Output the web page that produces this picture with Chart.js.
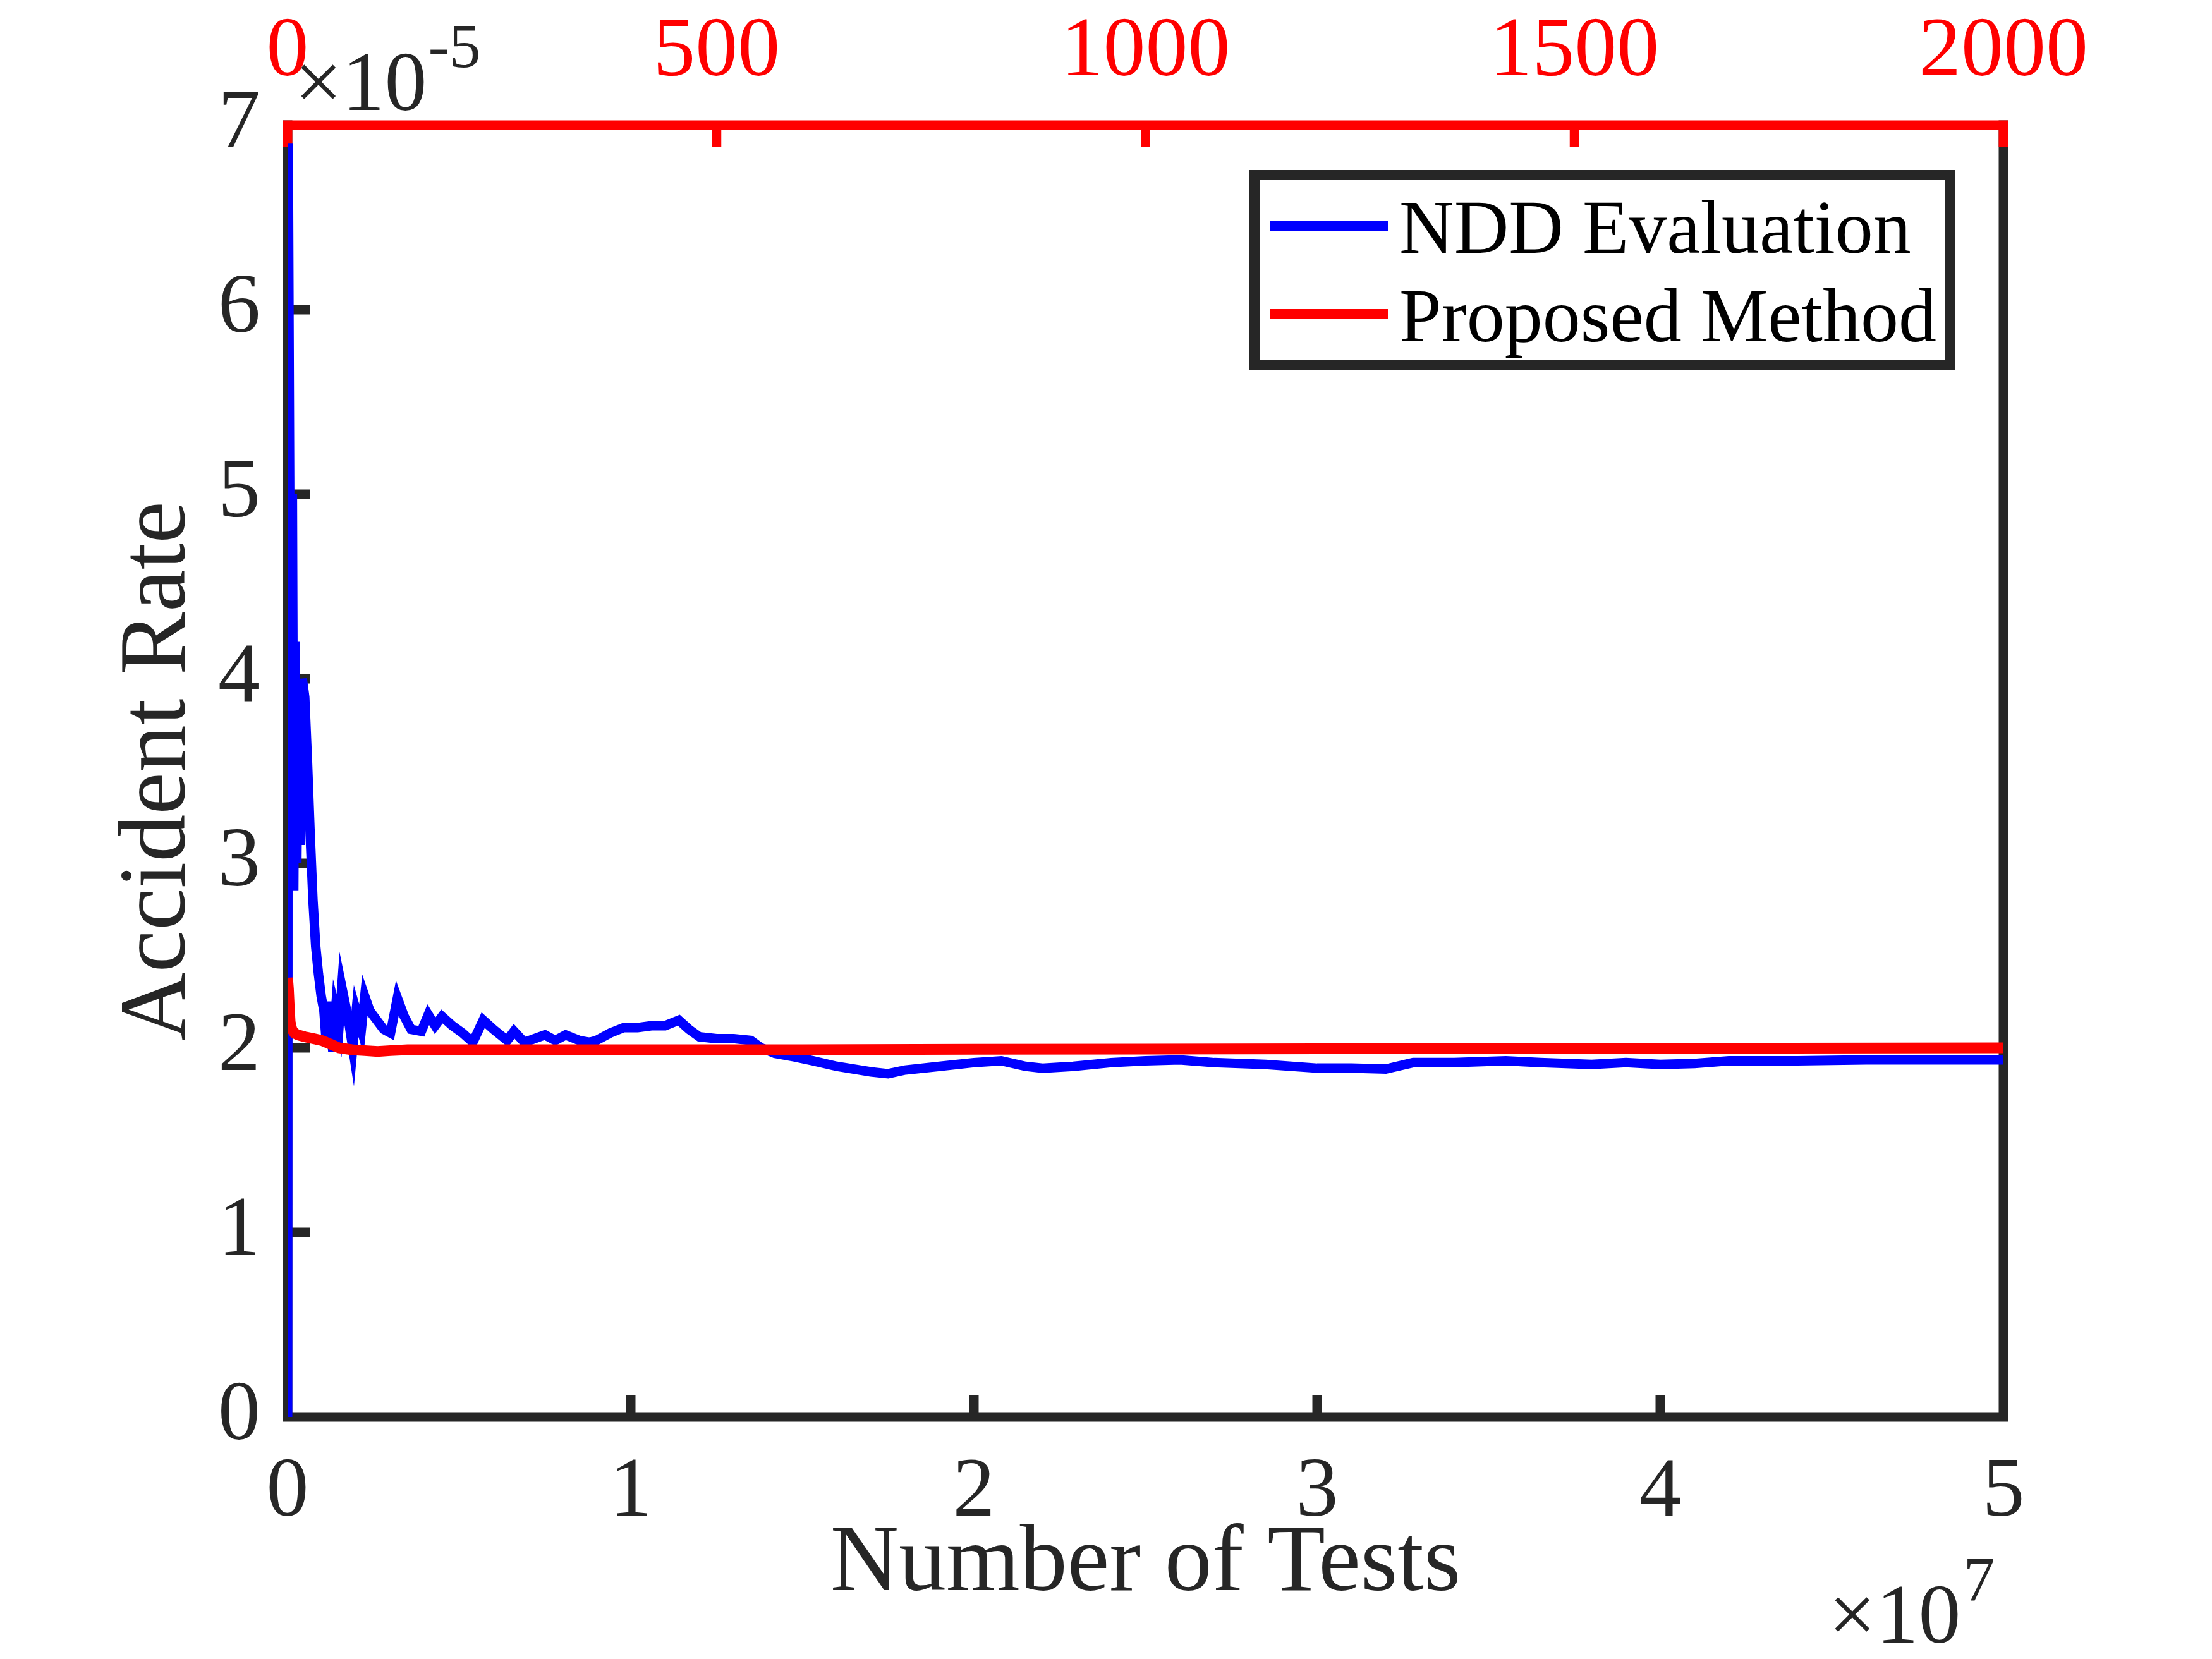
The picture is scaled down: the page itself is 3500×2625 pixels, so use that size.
<!DOCTYPE html>
<html>
<head>
<meta charset="utf-8">
<title>Accident Rate vs Number of Tests</title>
<script src="https://cdn.jsdelivr.net/npm/chart.js@4"></script>
<style>
    html, body { margin: 0; padding: 0; background: #ffffff; }
    #rateChart { display: block; }
</style>
</head>
<body>
<canvas id="rateChart" width="3500" height="2625"></canvas>
<script>
    // NDD evaluation: number of tests (x 10^7) and accident rate (x 10^-5)
    const nddTests = [
        0, 0.002, 0.006, 0.010, 0.014, 0.018, 0.022, 0.027, 0.032, 0.037,
        0.043, 0.050, 0.058, 0.066, 0.074, 0.082, 0.090, 0.098, 0.106, 0.112,
        0.118, 0.126, 0.132, 0.140, 0.150, 0.158, 0.170, 0.180, 0.190, 0.200,
        0.215, 0.225, 0.240, 0.260, 0.280, 0.300, 0.320, 0.340, 0.360, 0.390,
        0.410, 0.430, 0.450, 0.480, 0.510, 0.540, 0.570, 0.600, 0.640, 0.660,
        0.690, 0.720, 0.750, 0.780, 0.810, 0.850, 0.880, 0.900, 0.940, 0.980,
        1.020, 1.060, 1.100, 1.140, 1.170, 1.200, 1.250, 1.300, 1.350, 1.380,
        1.420, 1.480, 1.530, 1.600, 1.700, 1.750, 1.800, 1.900, 2.000, 2.080,
        2.150, 2.200, 2.290, 2.400, 2.500, 2.600, 2.700, 2.850, 3.000, 3.100,
        3.200, 3.280, 3.400, 3.550, 3.650, 3.800, 3.900, 4.000, 4.100, 4.200,
        4.400, 4.600, 4.800, 5.000
    ];
    const nddRate = [
        0, 6.90, 5.10, 2.90, 5.00, 2.85, 4.20, 3.00, 4.00, 3.10,
        4.00, 3.90, 3.55, 3.15, 2.80, 2.55, 2.40, 2.28, 2.20, 2.05,
        2.25, 2.10, 1.98, 2.20, 2.12, 2.33, 2.22, 2.12, 2.00, 2.20,
        2.10, 2.28, 2.20, 2.15, 2.10, 2.08, 2.27, 2.17, 2.10, 2.09,
        2.18, 2.12, 2.17, 2.12, 2.08, 2.03, 2.15, 2.10, 2.04, 2.09,
        2.03, 2.05, 2.07, 2.04, 2.07, 2.04, 2.03, 2.04, 2.08, 2.11,
        2.11, 2.12, 2.12, 2.15, 2.10, 2.06, 2.05, 2.05, 2.04, 2.00,
        1.97, 1.95, 1.93, 1.90, 1.87, 1.86, 1.88, 1.90, 1.92, 1.93,
        1.90, 1.89, 1.90, 1.92, 1.93, 1.935, 1.92, 1.91, 1.89, 1.89,
        1.885, 1.92, 1.92, 1.93, 1.92, 1.91, 1.92, 1.91, 1.915, 1.93,
        1.93, 1.935, 1.935, 1.935
    ];

    // Proposed method: number of tests (top axis) and accident rate (x 10^-5)
    const proposedTests = [
        0, 1, 2, 3, 5, 8, 12, 20, 30, 40,
        50, 60, 75, 90, 105, 120, 140, 200, 400, 600,
        800, 1000, 1200, 1500, 2000
    ];
    const proposedRate = [
        2.38, 2.32, 2.22, 2.14, 2.10, 2.08, 2.07, 2.06, 2.05, 2.04,
        2.02, 2.00, 1.99, 1.985, 1.98, 1.985, 1.99, 1.99, 1.99, 1.99,
        1.992, 1.993, 1.995, 1.997, 2.00
    ];

    const bottomTicks = [0, 1, 2, 3, 4, 5];
    const topTicks = [0, 500, 1000, 1500, 2000];
    const rateTicks = [0, 1, 2, 3, 4, 5, 6, 7];

    const DARK = '#262626';
    const RED = '#ff0000';
    const BLUE = '#0000ff';
    const SERIF = "'Liberation Serif', 'Times New Roman', serif";

    Chart.defaults.font.family = SERIF;
    Chart.defaults.color = DARK;

    // Box frame with inward ticks, like a MATLAB axes
    const framePlugin = {
        id: 'frame',
        beforeDatasetsDraw(chart) {
            const ctx = chart.ctx;
            const a = chart.chartArea;
            const xs = chart.scales.x, xt = chart.scales.x2, ys = chart.scales.y;
            const tick = 35;
            ctx.save();
            ctx.lineCap = 'butt';
            ctx.lineWidth = 15;

            ctx.strokeStyle = DARK;
            ctx.beginPath();
            ctx.moveTo(a.left, a.top - 7.5);
            ctx.lineTo(a.left, a.bottom);
            ctx.lineTo(a.right, a.bottom);
            ctx.lineTo(a.right, a.top - 7.5);
            ctx.stroke();

            bottomTicks.slice(1, -1).forEach(v => {
                const px = xs.getPixelForValue(v);
                ctx.beginPath();
                ctx.moveTo(px, a.bottom);
                ctx.lineTo(px, a.bottom - tick);
                ctx.stroke();
            });
            rateTicks.slice(1, -1).forEach(v => {
                const py = ys.getPixelForValue(v);
                ctx.beginPath();
                ctx.moveTo(a.left, py);
                ctx.lineTo(a.left + tick, py);
                ctx.stroke();
            });

            ctx.strokeStyle = RED;
            ctx.beginPath();
            ctx.moveTo(a.left - 7.5, a.top);
            ctx.lineTo(a.right + 7.5, a.top);
            ctx.stroke();
            topTicks.forEach(v => {
                const px = xt.getPixelForValue(v);
                ctx.beginPath();
                ctx.moveTo(px, a.top);
                ctx.lineTo(px, a.top + tick);
                ctx.stroke();
            });
            ctx.restore();
        },
        afterDraw(chart) {
            const ctx = chart.ctx;
            const a = chart.chartArea;
            ctx.save();
            ctx.fillStyle = DARK;
            ctx.textBaseline = 'alphabetic';
            ctx.textAlign = 'left';

            // y exponent
            ctx.font = '134px ' + SERIF;
            ctx.fillText('\u00d710', a.left + 11, 174);
            let w = ctx.measureText('\u00d710').width;
            ctx.font = '100px ' + SERIF;
            ctx.fillText('-5', a.left + 11 + w + 2, 106);

            // x exponent
            ctx.font = '134px ' + SERIF;
            ctx.fillText('\u00d710', 2893, 2599);
            w = ctx.measureText('\u00d710').width;
            ctx.font = '100px ' + SERIF;
            ctx.fillText('7', 2893 + w + 4, 2532);

            // legend
            const box = { left: 1977, top: 269, right: 3094, bottom: 585 };
            ctx.fillStyle = '#ffffff';
            ctx.fillRect(box.left, box.top, box.right - box.left, box.bottom - box.top);
            ctx.strokeStyle = DARK;
            ctx.lineWidth = 16;
            ctx.strokeRect(box.left + 8, box.top + 8, box.right - box.left - 16, box.bottom - box.top - 16);

            const entries = chart.data.datasets.map((d, i) => ({ label: d.label, color: d.borderColor, y: 357 + i * 140 }));
            ctx.font = '120px ' + SERIF;
            entries.forEach(e => {
                ctx.strokeStyle = e.color;
                ctx.lineWidth = 16;
                ctx.beginPath();
                ctx.moveTo(2010, e.y);
                ctx.lineTo(2196, e.y);
                ctx.stroke();
                ctx.fillStyle = '#000000';
                ctx.fillText(e.label, 2214, e.y + 43);
            });
            ctx.restore();
        }
    };

    const plainLabel = v => String(v);

    const ctx = document.getElementById('rateChart').getContext('2d');
    const rateChart = new Chart(ctx, {
        type: 'line',
        data: {
            datasets: [
                {
                    label: 'NDD Evaluation',
                    data: nddTests.map((t, i) => ({ x: t, y: nddRate[i] })),
                    xAxisID: 'x',
                    yAxisID: 'y',
                    borderColor: BLUE,
                    borderWidth: 15,
                    borderJoinStyle: 'miter',
                    pointRadius: 0,
                    tension: 0,
                    fill: false,
                    order: 2
                },
                {
                    label: 'Proposed Method',
                    data: proposedTests.map((t, i) => ({ x: t, y: proposedRate[i] })),
                    xAxisID: 'x2',
                    yAxisID: 'y',
                    borderColor: RED,
                    borderWidth: 17,
                    pointRadius: 0,
                    tension: 0,
                    fill: false,
                    order: 1
                }
            ]
        },
        options: {
            responsive: false,
            animation: false,
            devicePixelRatio: 1,
            layout: { padding: { left: 0, right: 330, top: 0, bottom: 0 } },
            plugins: {
                legend: { display: false },
                tooltip: { enabled: false }
            },
            scales: {
                x: {
                    type: 'linear',
                    position: 'bottom',
                    min: 0,
                    max: 5,
                    afterBuildTicks: s => { s.ticks = bottomTicks.map(v => ({ value: v })); },
                    afterFit: s => { s.height = 383; },
                    grid: { display: false, drawTicks: false },
                    border: { display: false },
                    ticks: {
                        color: DARK,
                        font: { size: 134 },
                        padding: 40,
                        maxRotation: 0,
                        autoSkip: false,
                        callback: plainLabel
                    },
                    title: {
                        display: true,
                        text: 'Number of Tests',
                        color: DARK,
                        font: { size: 150 },
                        padding: { top: 0, bottom: 58 }
                    }
                },
                x2: {
                    type: 'linear',
                    position: 'top',
                    min: 0,
                    max: 2000,
                    afterBuildTicks: s => { s.ticks = topTicks.map(v => ({ value: v })); },
                    afterFit: s => { s.height = 198; },
                    grid: { display: false, drawTicks: false },
                    border: { display: false },
                    ticks: {
                        color: RED,
                        font: { size: 134 },
                        padding: 34,
                        maxRotation: 0,
                        autoSkip: false,
                        callback: plainLabel
                    }
                },
                y: {
                    type: 'linear',
                    position: 'left',
                    min: 0,
                    max: 7,
                    afterBuildTicks: s => { s.ticks = rateTicks.map(v => ({ value: v })); },
                    afterFit: s => { s.width = 455; },
                    grid: { display: false, drawTicks: false },
                    border: { display: false },
                    ticks: {
                        color: DARK,
                        font: { size: 134 },
                        padding: 43,
                        autoSkip: false,
                        callback: plainLabel
                    },
                    title: {
                        display: true,
                        text: 'Accident Rate',
                        color: DARK,
                        font: { size: 150 },
                        padding: { top: 163, bottom: 0 }
                    }
                }
            }
        },
        plugins: [framePlugin]
    });
</script>
</body>
</html>
